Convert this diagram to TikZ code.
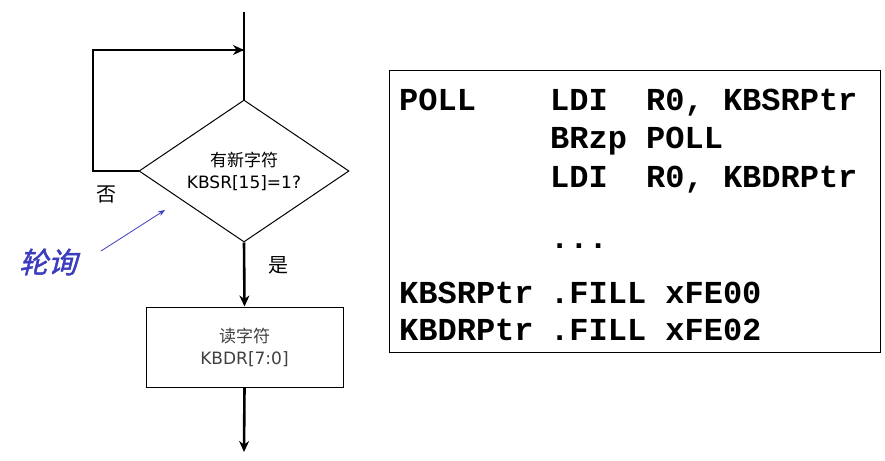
\documentclass[tikz,border=0pt]{standalone}
\usepackage{fontspec}
\setmainfont{DejaVu Sans}
\newfontfamily\cjk{Noto Sans CJK SC}
\newfontfamily\cmono{Liberation Mono}
\usetikzlibrary{shapes.geometric,arrows.meta}
\begin{document}
\begin{tikzpicture}[x=1pt,y=-1pt,
  flow/.style={line width=2.6pt,-{Stealth[length=11pt,width=10pt]}},
  code/.style={anchor=base west,font=\fontsize{32}{34}\selectfont\cmono\bfseries,inner sep=0pt}]
\useasboundingbox (0,0) rectangle (885,460);
\coordinate (top) at (244,12);
\node[draw,diamond,line width=1pt,minimum width=210pt,minimum height=142pt,inner sep=0pt,aspect=1.48] (d) at (244,171) {};
\node[align=center,font=\fontsize{17}{22}\selectfont] at (244,171) {{\cjk 有新字符}\\KBSR[15]=1?};
\node[draw,line width=1pt,minimum width=197pt,minimum height=80pt,align=center,font=\fontsize{17}{22}\selectfont,text=black!75] (r) at (244.5,347) {{\cjk 读字符}\\KBDR[7:0]};
\coordinate (bot) at (244,452);
\coordinate (c1) at (93,171);
\coordinate (c2) at (93,50);
\coordinate (c3) at (244,50);
\draw[line width=2.6pt] (top) -- (d.north);
\draw[line width=2.6pt,line join=miter] (d.west) -- (c1) -- (c2) -- (c3);
\draw[flow] (c2) -- (c3);
\draw[flow] (d.south) -- (r.north);
\draw[flow] (r.south) -- (bot);
\node[font=\fontsize{20}{22}\selectfont\cjk] (no) at (106,194) {否};
\node[font=\fontsize{20}{22}\selectfont\cjk] (yes) at (278,265) {是};
\node[font=\fontsize{29}{32}\selectfont\cjk,text={rgb,255:red,60;green,60;blue,190}] (poll) at (48,262) {\addfontfeatures{FakeSlant=0.25,FakeBold=1.5}轮询};
\coordinate (pt) at (165,210);
\draw[-{Stealth[length=7pt]},color={rgb,255:red,60;green,60;blue,190},line width=0.8pt] (101,251) -- (pt);
\node[draw,line width=1pt,minimum width=491pt,minimum height=282pt,inner sep=0pt] (box) at (634.5,211) {};
\node[code] at (399,110) {POLL};
\node[code] at (550,110) {LDI\ \ R0, KBSRPtr};
\node[code] at (550,148) {BRzp POLL};
\node[code] at (550,187) {LDI\ \ R0, KBDRPtr};
\node[code] at (550,248) {...};
\node[code] at (399,303) {KBSRPtr};
\node[code] at (550,303) {.FILL xFE00};
\node[code] at (399,340) {KBDRPtr};
\node[code] at (550,340) {.FILL xFE02};
\end{tikzpicture}
\end{document}
